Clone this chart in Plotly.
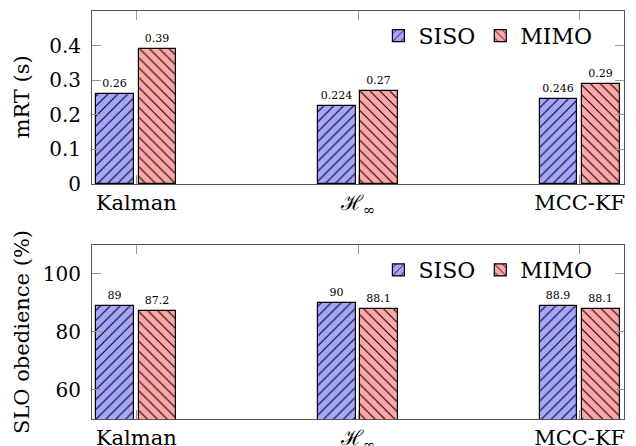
import plotly.graph_objects as go

categories = ["Kalman", "ℋ<sub>∞</sub>", "MCC-KF"]
mrt_siso = [0.26, 0.224, 0.246]
mrt_mimo = [0.39, 0.27, 0.29]
slo_siso = [89, 90, 88.9]
slo_mimo = [87.2, 88.1, 88.1]
series_names = ["SISO", "MIMO"]
y_titles = ["mRT (s)", "SLO obedience (%)"]

BLUE = "#a6a6ff"
RED = "#ffa6a6"
FONT = "DejaVu Serif"

def label(v):
    return str(v)

fig = go.Figure()

def add_bars(values, name, color, shape, offset, xa, ya, legend, show):
    fig.add_trace(go.Bar(
        x=categories, y=values, name=name,
        xaxis=xa, yaxis=ya, legend=legend, showlegend=show,
        width=0.17, offset=offset,
        marker=dict(color=color, line=dict(color="black", width=1.2),
                    pattern=dict(shape=shape, fgcolor="black", bgcolor=color,
                                 size=7, solidity=0.15, fillmode="replace")),
        text=[label(v) for v in values], textposition="outside",
        textfont=dict(family=FONT, size=11, color="black"),
        cliponaxis=False,
    ))

add_bars(mrt_siso, series_names[0], BLUE, "/", -0.18, "x", "y", "legend", True)
add_bars(mrt_mimo, series_names[1], RED, "\\", 0.01, "x", "y", "legend", True)
add_bars(slo_siso, series_names[0], BLUE, "/", -0.18, "x2", "y2", "legend2", True)
add_bars(slo_mimo, series_names[1], RED, "\\", 0.01, "x2", "y2", "legend2", True)

axis_common = dict(showline=True, linecolor="#555", linewidth=1, mirror="ticks",
                   ticks="inside", ticklen=9, tickcolor="#999", tickwidth=1,
                   showgrid=False, zeroline=False, automargin=False,
                   tickfont=dict(family=FONT, size=20, color="black"))
xtickfont = dict(family=FONT, size=21, color="black")

TOP_DOMAIN = [0.576, 1]
BOTTOM_DOMAIN = [0, 0.4265]

# page body has an 8px margin; figure is sized to fill the rest of the window
fig.update_layout(
    width=628, height=438,
    margin=dict(l=84, r=12, t=3, b=27),
    plot_bgcolor="white", paper_bgcolor="white",
    font=dict(family=FONT, color="black"),
    xaxis=dict(domain=[0, 1], anchor="y", range=[-0.2, 2.2], ticklabelstandoff=0,
               **{**axis_common, "tickfont": xtickfont}),
    yaxis=dict(domain=TOP_DOMAIN, anchor="x", range=[0, 0.5],
               tickvals=[0, 0.1, 0.2, 0.3, 0.4], ticktext=["0", "0.1", "0.2", "0.3", "0.4"],
               ticklabelstandoff=6, **axis_common),
    xaxis2=dict(domain=[0, 1], anchor="y2", range=[-0.2, 2.2], ticklabelstandoff=0,
                **{**axis_common, "tickfont": xtickfont}),
    yaxis2=dict(domain=BOTTOM_DOMAIN, anchor="x2", range=[50, 110],
                tickvals=[60, 80, 100],
                ticklabelstandoff=6, **axis_common),
    legend=dict(orientation="h", x=0.95, xanchor="right", y=0.939, yanchor="middle",
                bgcolor="rgba(0,0,0,0)", font=dict(family=FONT, size=22),
                itemwidth=30, traceorder="normal", tracegroupgap=0),
    legend2=dict(orientation="h", x=0.95, xanchor="right", y=0.365, yanchor="middle",
                 bgcolor="rgba(0,0,0,0)", font=dict(family=FONT, size=22),
                 itemwidth=30, traceorder="normal", tracegroupgap=0),
    bargap=0, barmode="overlay",
)

for title, dom in zip(y_titles, [TOP_DOMAIN, BOTTOM_DOMAIN]):
    fig.add_annotation(text=title, xref="paper", yref="paper", x=0,
                       y=(dom[0] + dom[1]) / 2, xanchor="center", yanchor="middle",
                       xshift=-70, textangle=-90, showarrow=False,
                       font=dict(family=FONT, size=21, color="black"))

fig.write_html("out.html")
